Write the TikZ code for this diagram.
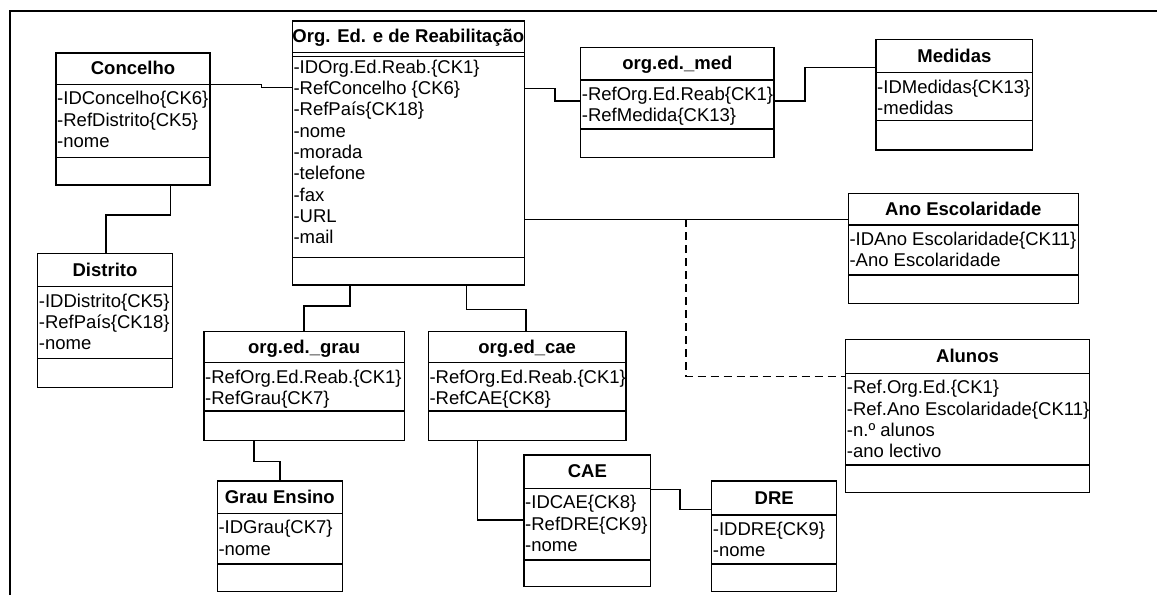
\documentclass[tikz,border=0pt]{standalone}
\usepackage{fontspec}
\setmainfont{Liberation Sans}
\usetikzlibrary{calc}
\tikzset{
  boxline/.style={line width=1.3pt},
  conn/.style={line width=1.2pt},
  dconn/.style={line width=1.2pt, dash pattern=on 8pt off 5pt},
  frame/.style={line width=2.8pt},
  ttl/.style={font={\fontsize{18.5}{21}\selectfont\bfseries}, anchor=base, inner sep=0pt},
  attr/.style={anchor=base west, inner sep=0pt}
}
% #1 name, #2 x1, #3 y1, #4 x2, #5 header bottom, #6 attr bottom, #7 y2, #8 title, #9 attributes
\newcommand\umlclass[9]{%
  \node[draw, boxline, anchor=north west, inner sep=0pt, outer sep=0pt,
        minimum width={(#4-#2)*1pt}, minimum height={(#7-#3)*1pt}] (#1) at (#2,#3) {};
  \draw[boxline] (#2,#5) -- (#4,#5);
  \draw[boxline] (#2,#6) -- (#4,#6);
  \node[ttl] at ({(#2+#4)/2},{(#3+#5)/2+6}) {#8};
  \foreach \a [count=\i] in {#9} {
    \node[attr] at (#2+1,{#5+20.5+(\i-1)*21.3}) {\a};
  }
}
\begin{document}
\begin{tikzpicture}[x=1pt,y=-1pt,font=\fontsize{18.5}{21}\selectfont]
\useasboundingbox (0,0) rectangle (1169,595);
\draw[frame] (10,595) -- (10,11) -- (1157,11);

\umlclass{conc}{56}{53}{210}{84.3}{157.3}{185}{Concelho}{-IDConcelho\{CK6\},-RefDistrito\{CK5\},-nome}
\umlclass{org}{292.3}{21}{524.3}{52.7}{257.3}{285}{Org. Ed. e de Reabilitação}{-IDOrg.Ed.Reab.\{CK1\},-RefConcelho \{CK6\},-RefPaís\{CK18\},-nome,-morada,-telefone,-fax,-URL,-mail}
\draw[line width=0.6pt] (292.3,56) -- (524.3,56);
\umlclass{med}{580.7}{47.3}{774}{80}{129}{157.3}{org.ed.\_med}{-RefOrg.Ed.Reab\{CK1\},-RefMedida\{CK13\}}
\umlclass{medidas}{876}{39.3}{1032.7}{72.7}{120.7}{150}{Medidas}{-IDMedidas\{CK13\},-medidas}
\umlclass{ano}{848.3}{193.3}{1078.3}{225}{275}{303.3}{Ano Escolaridade}{-IDAno Escolaridade\{CK11\},-Ano Escolaridade}
\umlclass{alunos}{845.7}{339.3}{1089.3}{373.3}{465}{492.7}{Alunos}{-Ref.Org.Ed.\{CK1\},-Ref.Ano Escolaridade\{CK11\},-n.º alunos,-ano lectivo}
\umlclass{dist}{37.7}{253.3}{172.3}{286.7}{358.3}{387.3}{Distrito}{-IDDistrito\{CK5\},-RefPaís\{CK18\},-nome}
\umlclass{grau}{204}{331.7}{404.3}{362.7}{411}{440.7}{org.ed.\_grau}{-RefOrg.Ed.Reab.\{CK1\},-RefGrau\{CK7\}}
\umlclass{cae}{428.3}{331.7}{626}{362.7}{411}{440.7}{org.ed\_cae}{-RefOrg.Ed.Reab.\{CK1\},-RefCAE\{CK8\}}
\umlclass{CAE}{524}{455}{650.7}{488.3}{560}{586.7}{CAE}{-IDCAE\{CK8\},-RefDRE\{CK9\},-nome}
\umlclass{dre}{711.7}{481}{836.7}{515}{564}{591.7}{DRE}{-IDDRE\{CK9\},-nome}
\umlclass{grauens}{217.3}{481}{342.3}{513.3}{564}{591.7}{Grau Ensino}{-IDGrau\{CK7\},-nome}

% connectors
\draw[conn] (conc.east |- 0,84.3) -| (261.7,87.3) -- (org.west |- 0,87.3);
\draw[conn] (org.east |- 0,88.3) -| (555,101) -- (med.west |- 0,101);
\draw[conn] (med.east |- 0,101) -| (805,67.7) -- (medidas.west |- 0,67.7);
\draw[conn] (org.east |- 0,219.3) -- (ano.west |- 0,219.3);
\coordinate (split) at (686,219.3);
\draw[dconn] (split) |- (alunos.west |- 0,376.7);
\draw[conn] (conc.south -| 170.5,0) |- (106,215) -- (dist.north -| 106,0);
\draw[conn] (org.south -| 350,0) |- (304,306) -- (grau.north -| 304,0);
\draw[conn] (org.south -| 466.7,0) |- (526,309.3) -- (cae.north -| 526,0);
\draw[conn] (grau.south -| 254,0) |- (280,461.7) -- (grauens.north -| 280,0);
\draw[conn] (cae.south -| 477.3,0) |- (CAE.west |- 0,520);
\draw[conn] (CAE.east |- 0,489.3) -| (680,509.3) -- (dre.west |- 0,509.3);
\end{tikzpicture}
\end{document}
